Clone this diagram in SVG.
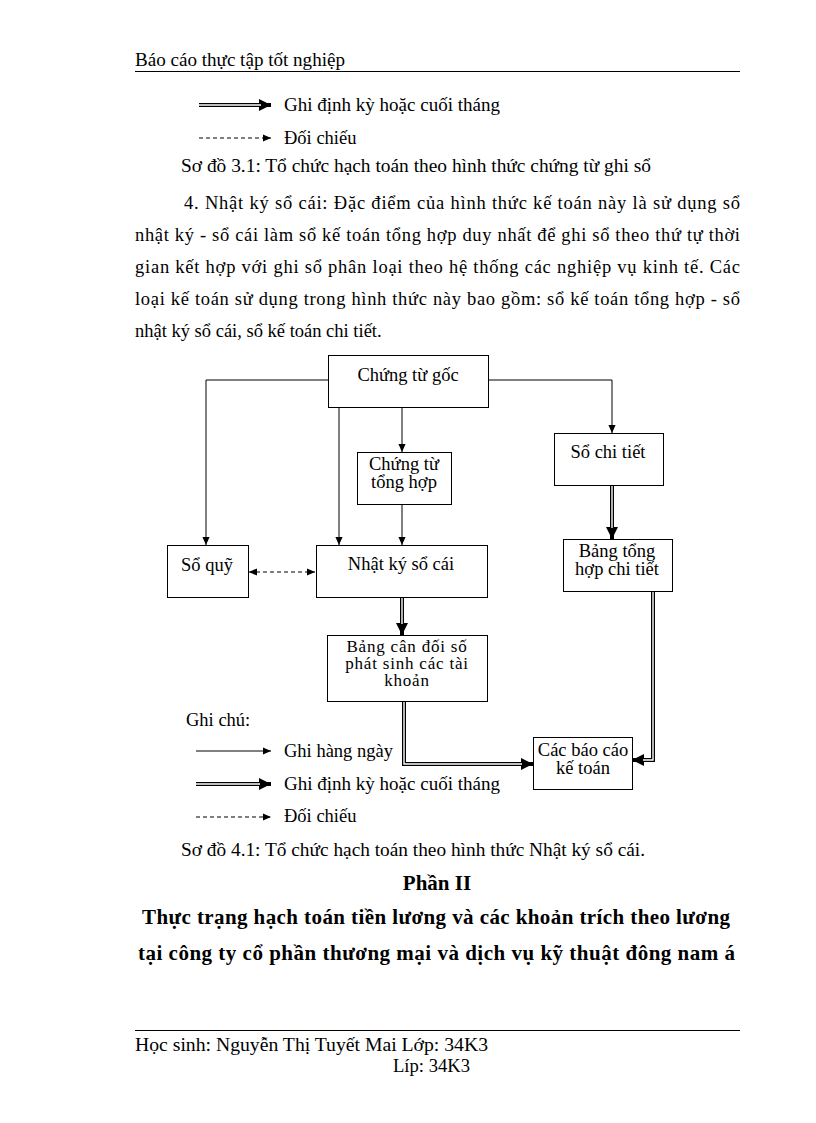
<svg xmlns="http://www.w3.org/2000/svg" width="816" height="1123" viewBox="0 0 816 1123">
<style>
text{font-family:"Liberation Serif","Times New Roman",serif;fill:#000}
.body{font-size:18.5px}
.lg{font-size:18.5px}
.n{font-size:18.5px;text-anchor:middle}
.ns{font-size:17px;text-anchor:middle;letter-spacing:0.8px}
.b{font-weight:bold;font-size:21px}
.box{fill:#fff;stroke:#000;stroke-width:1}
.ln{fill:none;stroke:#000;stroke-width:1}
.dash{fill:none;stroke:#000;stroke-width:1;stroke-dasharray:4 3}
.dbo{fill:none;stroke:#000;stroke-width:4}
.dbi{fill:none;stroke:#fff;stroke-width:1.4}
</style>
<defs>
<marker id="arr" viewBox="0 0 10 10" refX="10" refY="5" markerWidth="8" markerHeight="8" markerUnits="userSpaceOnUse" orient="auto-start-reverse"><path d="M0,0.5 L10,5 L0,9.5 z" fill="#000"/></marker>
<marker id="arrB" viewBox="0 0 10 10" refX="10" refY="5" markerWidth="12" markerHeight="13" markerUnits="userSpaceOnUse" orient="auto"><path d="M0,0 L10,5 L0,10 z" fill="#000"/></marker>
</defs>
<rect width="816" height="1123" fill="#fff"/>

<!-- header -->
<text class="lg" x="135" y="66" textLength="210" lengthAdjust="spacingAndGlyphs">Báo cáo thực tập tốt nghiệp</text>
<line x1="135" y1="71.5" x2="740" y2="71.5" stroke="#000" stroke-width="1"/>

<!-- top legend -->
<g id="legend-top">
<path class="dbo" d="M199,105 H271" marker-end="url(#arrB)"/>
<path class="dbi" d="M198,105 H261"/>
<text class="lg" x="284" y="111" textLength="216" lengthAdjust="spacingAndGlyphs">Ghi định kỳ hoặc cuối tháng</text>
<path class="dash" d="M199,138 H271" marker-end="url(#arr)"/>
<text class="lg" x="284" y="144">Đối chiếu</text>
</g>
<text class="lg" x="181" y="172" textLength="470" lengthAdjust="spacingAndGlyphs">Sơ đồ 3.1: Tổ chức hạch toán theo hình thức chứng từ ghi sổ</text>

<!-- paragraph -->
<text class="body" x="184" y="209" textLength="556" lengthAdjust="spacing">4. Nhật ký sổ cái: Đặc điểm của hình thức kế toán này là sử dụng sổ</text>
<text class="body" x="135" y="241" textLength="605" lengthAdjust="spacing">nhật ký - sổ cái làm sổ kế toán tổng hợp duy nhất để ghi sổ theo thứ tự thời</text>
<text class="body" x="135" y="273" textLength="605" lengthAdjust="spacing">gian kết hợp với ghi sổ phân loại theo hệ thống các nghiệp vụ kinh tế. Các</text>
<text class="body" x="135" y="305" textLength="605" lengthAdjust="spacing">loại kế toán sử dụng trong hình thức này bao gồm: sổ kế toán tổng hợp - sổ</text>
<text class="body" x="135" y="337">nhật ký sổ cái, sổ kế toán chi tiết.</text>

<!-- connectors -->
<g id="connectors">
<path class="ln" d="M328,380 H206 V545" marker-end="url(#arr)"/>
<path class="ln" d="M488,380 H612 V433" marker-end="url(#arr)"/>
<path class="ln" d="M402,407 V452" marker-end="url(#arr)"/>
<path class="ln" d="M402,504 V545" marker-end="url(#arr)"/>
<path class="ln" d="M339,407 V545" marker-end="url(#arr)"/>
<path class="dash" d="M249,572 H315" marker-start="url(#arr)" marker-end="url(#arr)"/>
<path class="dbo" d="M402,597 V635" marker-end="url(#arrB)"/>
<path class="dbi" d="M402,596 V624"/>
<path class="dbo" d="M612,485 V539" marker-end="url(#arrB)"/>
<path class="dbi" d="M612,484 V528"/>
<path class="dbo" d="M404,701 V764 H533" marker-end="url(#arrB)"/>
<path class="dbi" d="M404,700 V764 H522"/>
<path class="dbo" d="M653,591 V760 H632" marker-end="url(#arrB)"/>
<path class="dbi" d="M653,590 V760 H643"/>
</g>

<!-- nodes -->
<g id="chung-tu-goc"><rect class="box" x="328.5" y="355.5" width="160" height="52"/><text class="n" x="408" y="381">Chứng từ gốc</text></g>
<g id="so-chi-tiet"><rect class="box" x="554.5" y="433.5" width="109" height="52"/><text class="n" x="608" y="458">Sổ chi tiết</text></g>
<g id="chung-tu-tong-hop"><rect class="box" x="357.5" y="452.5" width="94" height="52"/><text class="n" x="404" y="470">Chứng từ</text><text class="n" x="404" y="488">tổng hợp</text></g>
<g id="so-quy"><rect class="box" x="167.5" y="545.5" width="81" height="52"/><text class="n" x="207" y="571">Sổ quỹ</text></g>
<g id="nhat-ky-so-cai"><rect class="box" x="316.5" y="545.5" width="171" height="52"/><text class="n" x="401" y="570">Nhật ký sổ cái</text></g>
<g id="bang-tong-hop-chi-tiet"><rect class="box" x="563.5" y="539.5" width="109" height="52"/><text class="n" x="617" y="557">Bảng tổng</text><text class="n" x="617" y="575">hợp chi tiết</text></g>
<g id="bang-can-doi"><rect class="box" x="327.5" y="635.5" width="160" height="66"/><text class="ns" x="407" y="652">Bảng cân đối số</text><text class="ns" x="407" y="669">phát sinh các tài</text><text class="ns" x="407" y="686">khoản</text></g>
<g id="cac-bao-cao"><rect class="box" x="533.5" y="737.5" width="99" height="52"/><text class="n" x="583" y="756">Các báo cáo</text><text class="n" x="583" y="774">kế toán</text></g>

<!-- bottom legend -->
<g id="legend-bottom">
<text class="lg" x="186" y="726">Ghi chú:</text>
<path class="ln" d="M196,751 H271" marker-end="url(#arr)"/>
<text class="lg" x="284" y="757">Ghi hàng ngày</text>
<path class="dbo" d="M196,784 H271" marker-end="url(#arrB)"/>
<path class="dbi" d="M195,784 H260"/>
<text class="lg" x="284" y="790" textLength="216" lengthAdjust="spacingAndGlyphs">Ghi định kỳ hoặc cuối tháng</text>
<path class="dash" d="M196,817 H271" marker-end="url(#arr)"/>
<text class="lg" x="284" y="822">Đối chiếu</text>
</g>
<text class="lg" x="181" y="856" textLength="464" lengthAdjust="spacingAndGlyphs">Sơ đồ 4.1: Tổ chức hạch toán theo hình thức Nhật ký sổ cái.</text>

<text class="b" x="437" y="890" text-anchor="middle">Phần II</text>
<text class="b" x="142" y="924" textLength="588" lengthAdjust="spacing">Thực trạng hạch toán tiền lương và các khoản trích theo lương</text>
<text class="b" x="138" y="960" textLength="597" lengthAdjust="spacing">tại công ty cổ phần thương mại và dịch vụ kỹ thuật đông nam á</text>

<!-- footer -->
<line x1="135" y1="1030.5" x2="740" y2="1030.5" stroke="#000" stroke-width="1"/>
<text class="lg" x="135" y="1051" textLength="353" lengthAdjust="spacingAndGlyphs">Học sinh: Nguyễn Thị Tuyết Mai Lớp: 34K3</text>
<text class="lg" x="393" y="1072" textLength="77" lengthAdjust="spacingAndGlyphs">Líp: 34K3</text>
</svg>
